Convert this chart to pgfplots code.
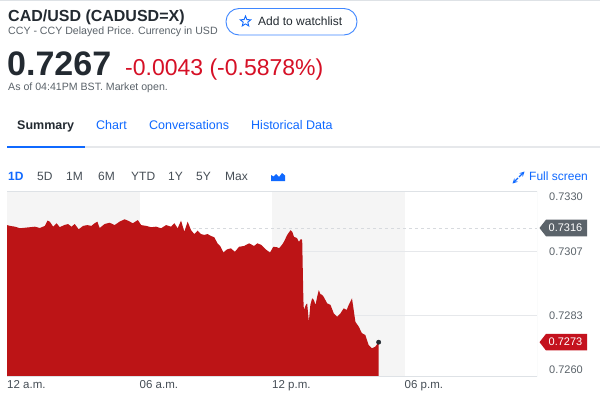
\documentclass[border=0pt]{standalone}
\usepackage{fontspec}
\setmainfont{Liberation Sans}
\usepackage{pgfplots}
\usepackage{pgfplotstable}
\pgfplotsset{compat=1.18}
\usetikzlibrary{shapes.geometric}
\definecolor{areared}{RGB}{188,20,22}
\definecolor{txtred}{RGB}{214,16,38}
\definecolor{tagred}{RGB}{196,18,30}
\definecolor{ydark}{RGB}{35,42,49}
\definecolor{ymid}{RGB}{70,78,86}
\definecolor{ygray}{RGB}{91,99,106}
\definecolor{yblue}{RGB}{15,105,255}
\definecolor{bandgray}{RGB}{245,245,245}
\definecolor{gridc}{RGB}{230,232,235}
\definecolor{dashc}{RGB}{215,218,222}
\definecolor{bordc}{RGB}{222,226,230}
\definecolor{taggray}{RGB}{91,99,106}
\newcommand\fs[1]{\fontsize{#1}{#1}\selectfont}

\pgfplotstableread{
h v
0.000 0.73171
0.135 0.73168
0.361 0.73165
0.586 0.73159
0.812 0.73161
1.038 0.73163
1.263 0.73165
1.489 0.73160
1.714 0.73168
1.836 0.73188
1.940 0.73184
2.089 0.73165
2.242 0.73178
2.391 0.73163
2.585 0.73171
2.765 0.73175
2.919 0.73165
3.068 0.73175
3.248 0.73155
3.442 0.73168
3.641 0.73171
3.821 0.73168
3.970 0.73178
4.092 0.73184
4.195 0.73160
4.421 0.73175
4.647 0.73180
4.872 0.73171
5.098 0.73184
5.323 0.73193
5.472 0.73188
5.698 0.73178
5.923 0.73190
6.077 0.73171
6.302 0.73168
6.528 0.73163
6.753 0.73165
6.979 0.73159
7.204 0.73171
7.430 0.73165
7.579 0.73178
7.728 0.73159
7.881 0.73188
8.030 0.73146
8.179 0.73184
8.332 0.73152
8.481 0.73137
8.630 0.73150
8.783 0.73137
8.932 0.73134
9.081 0.73137
9.235 0.73130
9.384 0.73125
9.533 0.73102
9.654 0.73092
9.803 0.73067
9.958 0.73079
10.137 0.73083
10.317 0.73070
10.511 0.73089
10.737 0.73092
10.962 0.73102
11.188 0.73092
11.337 0.73102
11.517 0.73096
11.716 0.73079
11.910 0.73067
12.059 0.73089
12.239 0.73087
12.316 0.73083
12.451 0.73096
12.541 0.73108
12.690 0.73134
12.843 0.73152
12.924 0.73145
12.993 0.73127
13.128 0.73122
13.218 0.73108
13.308 0.73118
13.367 0.73115
13.421 0.72888
13.444 0.72850
13.534 0.72869
13.592 0.72875
13.669 0.72805
13.737 0.72869
13.818 0.72894
13.895 0.72888
13.971 0.72869
14.053 0.72903
14.120 0.72925
14.188 0.72910
14.270 0.72907
14.346 0.72899
14.495 0.72875
14.648 0.72869
14.797 0.72837
14.946 0.72824
15.099 0.72837
15.248 0.72856
15.383 0.72850
15.474 0.72869
15.622 0.72894
15.699 0.72850
15.776 0.72805
15.925 0.72787
16.073 0.72762
16.227 0.72755
16.376 0.72717
16.525 0.72705
16.678 0.72711
16.829 0.72728
}\pricedata

\begin{document}
\begin{tikzpicture}
\useasboundingbox (0,0) rectangle (600pt,-396pt);
\fill[white] (0,0) rectangle (600pt,-396pt);
\draw[bordc,line width=0.6pt] (0,-0.3pt) -- (600pt,-0.3pt);
% header
\node[anchor=base west,inner sep=0] at (8pt,-22pt) {\fs{16}\bfseries\color{ydark}CAD/USD (CADUSD=X)};
\node[anchor=base west,inner sep=0] at (8pt,-34.5pt) {\fs{10.6}\color{ygray}CCY - CCY Delayed Price. Currency in USD};
\node[anchor=base west,inner sep=0] at (7pt,-75pt) {\fs{34}\bfseries\color{ydark}0.7267};
\node[anchor=base west,inner sep=0] at (125pt,-75pt) {\fs{23}\color{txtred}-0.0043 (-0.5878\%)};
\node[anchor=base west,inner sep=0] at (8pt,-91pt) {\fs{10.6}\color{ygray}As of 04:41PM BST. Market open.};
% watchlist button
\draw[yblue!80,line width=0.9pt,rounded corners=13pt] (226pt,-8.5pt) rectangle (357pt,-35pt);
\node[star,star points=5,star point ratio=2.3,draw=yblue,line width=0.9pt,minimum size=11pt,inner sep=0] at (245.5pt,-21.5pt) {};
\node[anchor=base west,inner sep=0] at (258pt,-26pt) {\fs{12}\color{ydark}Add to watchlist};
% tabs
\node[anchor=base west,inner sep=0] at (17pt,-129.5pt) {\fs{12.5}\bfseries\color{ydark}Summary};
\node[anchor=base west,inner sep=0] at (96pt,-129.5pt) {\fs{12.5}\color{yblue}Chart};
\node[anchor=base west,inner sep=0] at (149pt,-129.5pt) {\fs{12.5}\color{yblue}Conversations};
\node[anchor=base west,inner sep=0] at (251pt,-129.5pt) {\fs{12.5}\color{yblue}Historical Data};
\draw[gridc,line width=1.6pt] (7pt,-147pt) -- (600pt,-147pt);
\draw[yblue,line width=2.6pt] (7pt,-147pt) -- (85pt,-147pt);
% range row
\node[anchor=base west,inner sep=0] at (8pt,-180.5pt) {\fs{12}\bfseries\color{yblue}1D};
\node[anchor=base west,inner sep=0] at (37pt,-180.5pt) {\fs{12}\color{ymid}5D};
\node[anchor=base west,inner sep=0] at (66pt,-180.5pt) {\fs{12}\color{ymid}1M};
\node[anchor=base west,inner sep=0] at (98pt,-180.5pt) {\fs{12}\color{ymid}6M};
\node[anchor=base west,inner sep=0] at (131pt,-180.5pt) {\fs{12}\color{ymid}YTD};
\node[anchor=base west,inner sep=0] at (168pt,-180.5pt) {\fs{12}\color{ymid}1Y};
\node[anchor=base west,inner sep=0] at (196pt,-180.5pt) {\fs{12}\color{ymid}5Y};
\node[anchor=base west,inner sep=0] at (225pt,-180.5pt) {\fs{12}\color{ymid}Max};
\fill[yblue] (271pt,-181pt) -- (271pt,-175pt) -- (273.5pt,-176.5pt) -- (276pt,-174pt) -- (279pt,-177pt) -- (282pt,-173pt) -- (285pt,-175.5pt) -- (285pt,-181pt) -- cycle;
\node[anchor=base west,inner sep=0] at (529pt,-180.5pt) {\fs{12}\color{yblue}Full screen};
\draw[yblue,line width=1.2pt,->,>=stealth] (519pt,-177pt) -- (524.5pt,-171.5pt);
\draw[yblue,line width=1.2pt,->,>=stealth] (518pt,-178pt) -- (512.5pt,-183.5pt);
% chart
\begin{axis}[
  at={(7pt,-376pt)}, anchor=south west, scale only axis,
  width=530pt, height=185pt,
  xmin=0, xmax=24, ymin=0.7260, ymax=0.7330,
  axis line style={draw=none},
  xtick={0,6,12,18}, xticklabels={12 a.m.,06 a.m.,12 p.m.,06 p.m.},
  ytick={0.7283,0.7307}, yticklabels={0.7283,0.7307},
  yticklabel pos=right,
  major tick length=0pt, tick style={draw=none},
  xticklabel style={anchor=north west, inner sep=0pt, yshift=-4.5pt, font=\fs{11.5}, text=ymid},
  yticklabel style={anchor=west, inner sep=0pt, xshift=12pt, font=\fs{11}, text=ygray},
]
\fill[bandgray] (axis cs:0,0.7260) rectangle (axis cs:6,0.7330);
\fill[bandgray] (axis cs:12,0.7260) rectangle (axis cs:18,0.7330);
\draw[gridc,line width=0.8pt] (axis cs:0,0.7307) -- (axis cs:24,0.7307);
\draw[gridc,line width=0.8pt] (axis cs:0,0.7283) -- (axis cs:24,0.7283);
\draw[dashc,dash pattern=on 3pt off 3pt,line width=0.5pt] (axis cs:0,0.7316) -- (axis cs:24,0.7316);
\addplot[fill=areared,draw=none] table[x=h,y=v] {\pricedata} \closedcycle;
\addplot[only marks,mark=*,mark size=2.2pt,color=ydark] coordinates {(16.829,0.72728)};
\draw[bordc,line width=0.8pt] (rel axis cs:0,1) -- (rel axis cs:1,1) -- (rel axis cs:1,0) -- (rel axis cs:0,0);
\coordinate (pc) at (axis cs:24,0.7316);
\coordinate (lp) at (axis cs:24,0.72728);
\coordinate (ytop) at (axis cs:24,0.7330);
\coordinate (ybot) at (axis cs:24,0.7260);
\end{axis}
\node[anchor=north west,inner sep=0,text=ygray] at ([xshift=12pt,yshift=-2pt]ytop) {\fs{11}0.7330};
\node[anchor=south west,inner sep=0,text=ygray] at ([xshift=12pt,yshift=2pt]ybot) {\fs{11}0.7260};
\fill[taggray] ([xshift=2.5pt]pc) -- ++(6.5pt,8.3pt) -- ++(41pt,0) -- ++(0,-16.6pt) -- ++(-41pt,0) -- cycle;
\node[anchor=west,inner sep=0,text=white] at ([xshift=11.5pt]pc) {\fs{11}0.7316};
\fill[tagred] ([xshift=2.5pt]lp) -- ++(6.5pt,8.3pt) -- ++(41pt,0) -- ++(0,-16.6pt) -- ++(-41pt,0) -- cycle;
\node[anchor=west,inner sep=0,text=white] at ([xshift=11.5pt]lp) {\fs{11}0.7273};
\end{tikzpicture}
\end{document}
